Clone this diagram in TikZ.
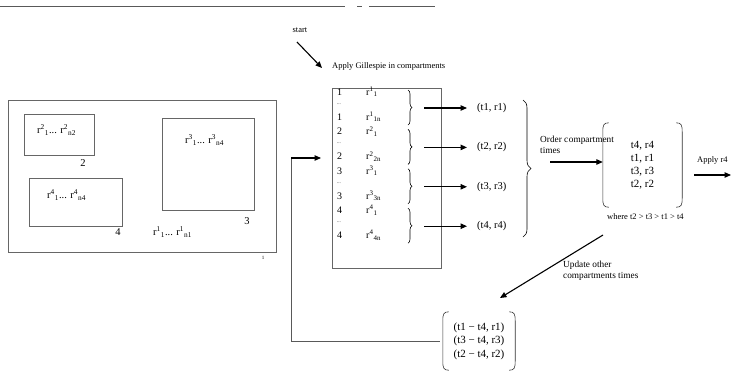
\documentclass[tikz,border=0pt]{standalone}
\usepackage{fontspec}
\setmainfont{Liberation Serif}
\usetikzlibrary{arrows.meta,decorations.pathreplacing}
% reaction index with raised compartment number and lowered reaction number
\newcommand\rsub[2]{r\textsuperscript{#1}\textsubscript{#2}}
\begin{document}
\begin{tikzpicture}[x=1pt,y=-1pt,
  font=\fontsize{8.5}{10}\selectfont,
  box/.style={draw=black!60, line width=0.8pt},
  rule/.style={draw=black!65, line width=0.8pt},
  flow/.style={-{Triangle[length=6.5pt,width=5.5pt]}, line width=1.1pt},
  txt/.style={inner sep=0pt, anchor=west},
  note/.style={inner sep=0pt, anchor=north west, align=left, font=\fontsize{9.3}{11}\selectfont},
  big/.style={font=\fontsize{10.5}{12}\selectfont},
  br/.style={decorate, decoration={brace, amplitude=4pt}, line width=0.6pt},
  paren/.style={draw=black!80, line width=0.6pt}]
\useasboundingbox (0,0) rectangle (732,373);

% rule at the top of the page
\draw[rule] (0,6) -- (345,6) (357,6) -- (362,6) (369,6) -- (435,6);

% compartments
\draw[box] (8,100) rectangle (276,252);
\draw[box] (24,114) rectangle (94,155);
\draw[box] (29,178) rectangle (122,226);
\draw[box] (162,118) rectangle (254,210);
\node[txt, big] (c2) at (37,130) {\rsub{2}{1}... \rsub{2}{n2}};
\node[big] (k2) at (83,163) {2};
\node[txt, big] (c4) at (47,195) {\rsub{4}{1}... \rsub{4}{n4}};
\node[big] (k4) at (118,232) {4};
\node[txt, big] (c3) at (185,140) {\rsub{3}{1}... \rsub{3}{n4}};
\node[big] (k3) at (247,221) {3};
\node[txt, big] (c1) at (153,232) {\rsub{1}{1}... \rsub{1}{n1}};
\node[font=\fontsize{5}{6}\selectfont] (k1) at (263,258) {1};

% start
\node (start) at (300,30) {start};
\coordinate (startend) at (322,68);
\draw[flow] (297,42) -- (startend);

% Gillespie box
\node[txt] (gil) at (332,66) {Apply Gillespie in compartments};
\node[box, anchor=north west, minimum width=109pt, minimum height=180pt, inner sep=0pt] (gbox) at (332,88) {};
\foreach \i in {1,2,3,4}{
  \pgfmathsetmacro\gy{92+39.4*(\i-1)}
  \node[txt, font=\fontsize{10}{12}\selectfont] (n\i a) at (337,\gy) {\i};
  \node[txt, font=\fontsize{5}{6}\selectfont] (n\i b) at (337,\gy+12) {...};
  \node[txt, font=\fontsize{10}{12}\selectfont] (n\i c) at (337,\gy+25) {\i};
  \node[txt, font=\fontsize{10}{12}\selectfont] (r\i a) at (366,\gy) {\rsub{\i}{1}};
  \node[txt, font=\fontsize{10}{12}\selectfont] (r\i c) at (366,\gy+25) {\rsub{\i}{\i n}};
  \draw[br] (408,\gy-2) -- (408,\gy+33);
  \coordinate (b\i) at (424,\gy+16);
  \node[txt, big] (t\i) at (477,\gy+16) {(t\i, r\i)};
  \draw[flow, shorten >=10pt] (b\i) -- (b\i -| t\i.west);
}

% collect the four times
\draw[br, decoration={amplitude=8pt}] (523,100) -- (523,237);
\node[note] (ordtxt) at (540,136) {Order c\kern0.6pt ompartment\\times};
\coordinate (ordstart) at (550,162);

% ordered list
\node[minimum width=79pt, minimum height=84pt, align=center, inner sep=0pt,
      font=\fontsize{11}{13}\selectfont] (ord) at (642.5,165) {t4, r4\\t1, r1\\t3, r3\\t2, r2};
\draw[paren] ([xshift=6pt]ord.north west) .. controls ([xshift=1pt]ord.north west) and ([yshift=-2pt]ord.north west) .. ([yshift=-9pt]ord.north west)
  -- ([yshift=9pt]ord.south west) .. controls ([yshift=2pt]ord.south west) and ([xshift=1pt]ord.south west) .. ([xshift=6pt]ord.south west);
\draw[paren] ([xshift=-6pt]ord.north east) .. controls ([xshift=-1pt]ord.north east) and ([yshift=-2pt]ord.north east) .. ([yshift=-9pt]ord.north east)
  -- ([yshift=9pt]ord.south east) .. controls ([yshift=2pt]ord.south east) and ([xshift=-1pt]ord.south east) .. ([xshift=-6pt]ord.south east);
\draw[flow] (ordstart) -- (ordstart -| ord.west);
\node[txt] (where) at (607,217) {where t2 {>} t3 {>} t1 {>} t4};

% apply the earliest reaction
\node[txt] (apply) at (697,160) {Apply r4};
\coordinate (a4s) at (694,175);
\coordinate (a4e) at (731,175);
\draw[flow] (a4s) -- (a4e);

% update the other times
\coordinate (ups) at (603,235);
\coordinate (upe) at (500,298);
\draw[flow] (ups) -- (upe);
\node[note] (updtxt) at (563,261) {Update other\\compartments times};

\node[minimum width=72pt, minimum height=58pt, align=center, inner sep=0pt,
      font=\fontsize{11}{13.5}\selectfont] (upd) at (479,341) {(t1 − t4, r1)\\(t3 − t4, r3)\\(t2 − t4, r2)};
\draw[paren] ([xshift=6pt]upd.north west) .. controls ([xshift=1pt]upd.north west) and ([yshift=-2pt]upd.north west) .. ([yshift=-9pt]upd.north west)
  -- ([yshift=9pt]upd.south west) .. controls ([yshift=2pt]upd.south west) and ([xshift=1pt]upd.south west) .. ([xshift=6pt]upd.south west);
\draw[paren] ([xshift=-6pt]upd.north east) .. controls ([xshift=-1pt]upd.north east) and ([yshift=-2pt]upd.north east) .. ([yshift=-9pt]upd.north east)
  -- ([yshift=9pt]upd.south east) .. controls ([yshift=2pt]upd.south east) and ([xshift=-1pt]upd.south east) .. ([xshift=-6pt]upd.south east);

% feedback to the Gillespie step
\coordinate (fbturn) at (291,158);
\coordinate (fbtip) at (321,158);
\draw[rule] ([xshift=-3pt]upd.west) -| (fbturn);
\draw[flow] (fbturn) -- (fbtip);
\end{tikzpicture}
\end{document}
